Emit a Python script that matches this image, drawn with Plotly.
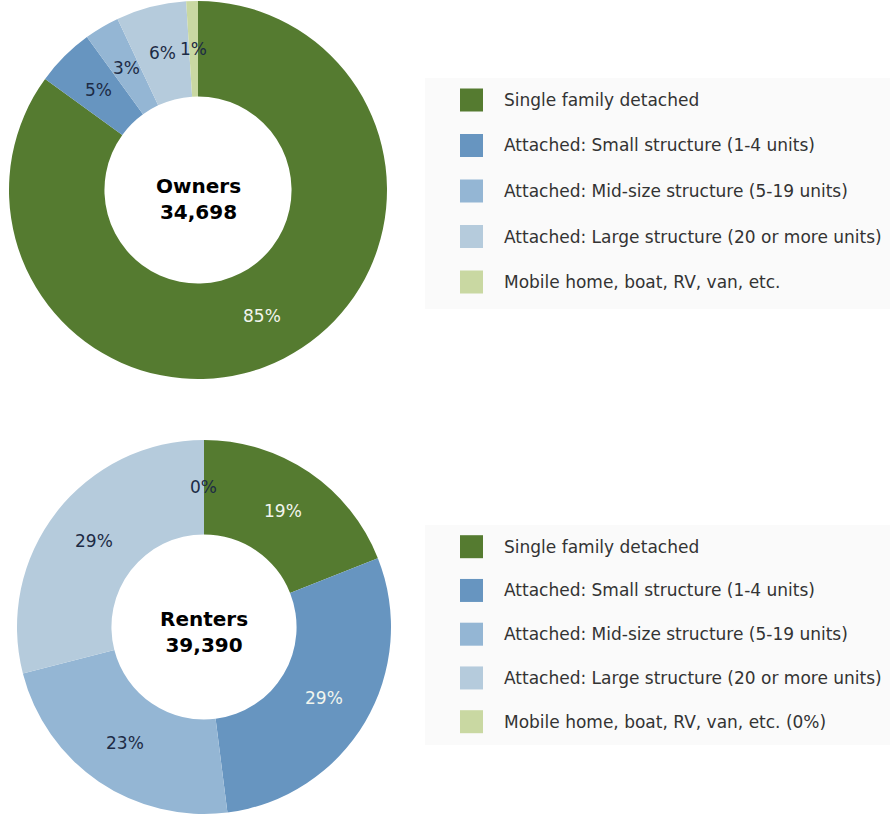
import math
import plotly.graph_objects as go

# ---- data ----
categories = [
    "Single family detached",
    "Attached: Small structure (1-4 units)",
    "Attached: Mid-size structure (5-19 units)",
    "Attached: Large structure (20 or more units)",
    "Mobile home, boat, RV, van, etc.",
]
renter_legend_labels = categories[:4] + ["Mobile home, boat, RV, van, etc. (0%)"]
owners_pct = [85, 5, 3, 6, 1]
renters_pct = [19, 29, 23, 29, 0]
owners_total = "34,698"
renters_total = "39,390"

# ---- styles ----
colors = ["#557b30", "#6795c0", "#94b6d4", "#b5cbdc", "#c9d8a2"]
DARK = "#1d2b45"
LIGHT = "#f2f5ee"
owners_text_colors = [LIGHT, DARK, DARK, DARK, DARK]
renters_text_colors = [LIGHT, LIGHT, DARK, DARK, DARK]
FONT = "Verdana, DejaVu Sans, sans-serif"
W, H = 890, 815
HOLE = 0.495

fig = go.Figure()
shapes = []
annotations = []


def px_x(x):
    return x / W


def px_y(y):
    return 1 - y / H


def add_donut(values, colors_text, title, dom, title_drop):
    x0, x1, y0, y1 = dom
    fig.add_trace(go.Pie(
        labels=categories,
        values=values,
        sort=False,
        direction="clockwise",
        rotation=0,
        hole=HOLE,
        marker=dict(colors=colors, line=dict(width=0)),
        textinfo="none",
        domain=dict(x=[px_x(x0), px_x(x1)], y=[px_y(y1), px_y(y0)]),
        showlegend=False,
        hoverinfo="label+percent",
    ))
    cx, cy = (x0 + x1) / 2, (y0 + y1) / 2
    # centre title
    annotations.append(dict(xref="paper", yref="paper", x=px_x(cx), y=px_y(cy + title_drop),
                            xanchor="center", yanchor="middle", text=title,
                            showarrow=False,
                            font=dict(family=FONT, size=20, color="#000000")))
    # percentage labels placed at the middle of the ring, derived from the data
    R = min(x1 - x0, y1 - y0) / 2
    rmid = R * (1 + HOLE) / 2
    total = sum(values)
    cum = 0
    for v, col in zip(values, colors_text):
        ang = (cum + v / 2) / total * 2 * math.pi
        cum += v
        tx = cx + rmid * math.sin(ang)
        ty = cy - rmid * math.cos(ang)
        annotations.append(dict(xref="paper", yref="paper", x=px_x(tx), y=px_y(ty),
                                xanchor="center", yanchor="middle",
                                text=f"{round(v / total * 100)}%", showarrow=False,
                                font=dict(family=FONT, size=17, color=col)))


add_donut(owners_pct, owners_text_colors,
          f"<b>Owners</b><br><b>{owners_total}</b>", (9, 387, 1, 379), 9)
add_donut(renters_pct, renters_text_colors,
          f"<b>Renters</b><br><b>{renters_total}</b>", (17, 391, 440, 814), 5)


def add_legend(labels, box, row0, step):
    bx0, by0, bx1, by1 = box
    shapes.append(dict(type="rect", xref="paper", yref="paper",
                       x0=px_x(bx0), x1=px_x(bx1), y0=px_y(by1), y1=px_y(by0),
                       fillcolor="#fafafa", line=dict(width=0), layer="below"))
    for i, lab in enumerate(labels):
        cy = row0 + i * step
        shapes.append(dict(type="rect", xref="paper", yref="paper",
                           x0=px_x(460), x1=px_x(483),
                           y0=px_y(cy + 11.5), y1=px_y(cy - 11.5),
                           fillcolor=colors[i], line=dict(width=0)))
        annotations.append(dict(xref="paper", yref="paper", x=px_x(502), y=px_y(cy),
                                xanchor="left", yanchor="middle", text=lab,
                                showarrow=False,
                                font=dict(family=FONT, size=17, color="#333333")))


add_legend(categories, (425, 78, 890, 309), 100, 45.5)
add_legend(renter_legend_labels, (425, 525, 890, 745), 546.7, 43.75)

fig.update_layout(
    width=W, height=H,
    margin=dict(l=0, r=0, t=0, b=0),
    paper_bgcolor="white",
    plot_bgcolor="white",
    shapes=shapes,
    annotations=annotations,
    font=dict(family=FONT),
)

fig.write_html("out.html",
               config={"displayModeBar": False},
               post_script="document.body.style.margin='0';document.body.style.overflow='hidden';")
